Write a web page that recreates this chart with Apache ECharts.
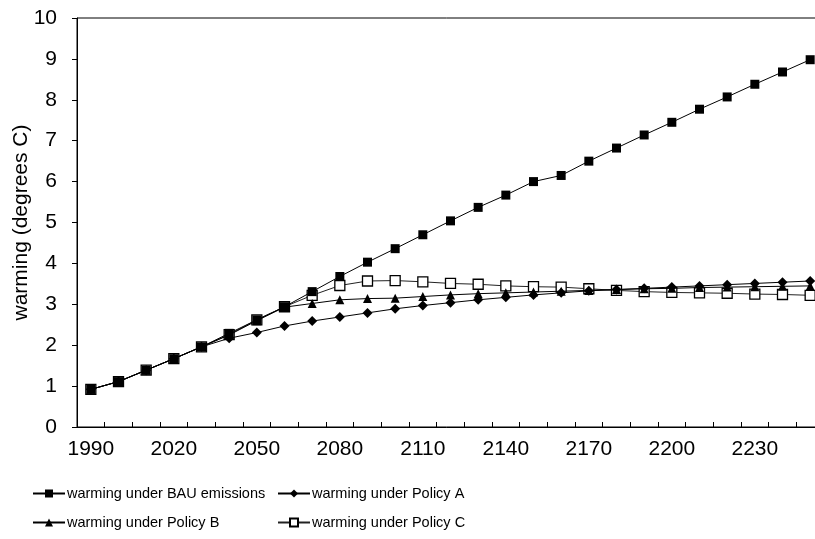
<!DOCTYPE html>
<html>
<head>
<meta charset="utf-8">
<script src="https://cdn.jsdelivr.net/npm/echarts@6/dist/echarts.min.js"></script>
<style>
  html, body { margin: 0; padding: 0; background: #fff; }
  #chart { width: 815px; height: 539px; }
</style>
</head>
<body>
<div id="chart"></div>
<script>
// years on the category axis, one point per decade
const years = ['1990', '2000', '2010', '2020', '2030', '2040', '2050', '2060', '2070', '2080',
  '2090', '2100', '2110', '2120', '2130', '2140', '2150', '2160', '2170', '2180',
  '2190', '2200', '2210', '2220', '2230', '2240', '2250']

const bau = [0.92, 1.11, 1.39, 1.67, 1.96, 2.29, 2.62, 2.94, 3.31, 3.68,
  4.03, 4.36, 4.70, 5.04, 5.37, 5.67, 6.00, 6.15, 6.50, 6.82,
  7.14, 7.45, 7.77, 8.07, 8.38, 8.68, 8.98]
const policyA = [0.92, 1.11, 1.39, 1.67, 1.96, 2.17, 2.31, 2.47, 2.59, 2.69,
  2.79, 2.89, 2.97, 3.04, 3.11, 3.17, 3.23, 3.28, 3.33, 3.36,
  3.39, 3.42, 3.45, 3.48, 3.51, 3.54, 3.57]
const policyB = [0.92, 1.11, 1.39, 1.67, 1.96, 2.25, 2.60, 2.93, 3.02, 3.11,
  3.14, 3.15, 3.19, 3.23, 3.26, 3.28, 3.30, 3.32, 3.34, 3.36,
  3.38, 3.39, 3.41, 3.42, 3.43, 3.44, 3.45]
const policyC = [0.92, 1.11, 1.39, 1.67, 1.96, 2.26, 2.62, 2.94, 3.22, 3.46,
  3.57, 3.58, 3.55, 3.51, 3.49, 3.45, 3.43, 3.42, 3.38, 3.34,
  3.31, 3.29, 3.28, 3.27, 3.25, 3.24, 3.22]

const yTicks = [0, 1, 2, 3, 4, 5, 6, 7, 8, 9, 10]

const font = 'Liberation Sans, Arial, sans-serif'

const chart = echarts.init(document.getElementById('chart'))

const legendBase = (name, left, top) => ({
  data: [name],
  left: left,
  top: top,
  itemWidth: 32,
  itemHeight: 10,
  itemGap: 0,
  textStyle: { fontFamily: font, fontSize: 14.5, color: '#000', padding: [0, 0, 0, -3] },
  padding: 0
})

const option = {
  backgroundColor: '#fff',
  animation: false,
  grid: {
    left: 77,
    top: 18,
    right: -9,
    bottom: 112,
    outerBoundsMode: 'none',
    containLabel: false,
    show: true,
    borderColor: '#000',
    borderWidth: 1
  },
  legend: [
    legendBase('warming under BAU emissions', 32, 486),
    legendBase('warming under Policy A', 277, 486),
    legendBase('warming under Policy B', 32, 515),
    legendBase('warming under Policy C', 277, 515)
  ],
  xAxis: {
    type: 'category',
    data: years,
    boundaryGap: true,
    axisLine: { lineStyle: { color: '#000', width: 1 } },
    axisTick: { show: true, inside: true, length: 5, interval: 0, lineStyle: { color: '#000' } },
    axisLabel: { interval: 2, color: '#000', fontFamily: font, fontSize: 21, margin: 12 },
    splitLine: { show: false }
  },
  yAxis: {
    type: 'value',
    min: yTicks[0],
    max: yTicks[yTicks.length - 1],
    interval: 1,
    name: 'warming (degrees C)',
    nameLocation: 'middle',
    nameGap: 45,
    nameMoveOverlap: false,
    nameTextStyle: { color: '#000', fontFamily: font, fontSize: 21 },
    axisLine: { show: true, lineStyle: { color: '#000', width: 1 } },
    axisTick: { show: true, length: 5, lineStyle: { color: '#000' } },
    axisLabel: { color: '#000', fontFamily: font, fontSize: 21, margin: 20 },
    splitLine: { show: false }
  },
  series: [
    {
      name: 'warming under Policy C',
      type: 'line',
      data: policyC,
      symbol: 'rect',
      symbolSize: 10,
      showAllSymbol: true,
      lineStyle: { color: '#222', width: 1 },
      itemStyle: { color: '#fff', borderColor: '#000', borderWidth: 1.3 },
      z: 2
    },
    {
      name: 'warming under Policy B',
      type: 'line',
      data: policyB,
      symbol: 'triangle',
      symbolSize: 9,
      showAllSymbol: true,
      lineStyle: { color: '#000', width: 1 },
      itemStyle: { color: '#000' },
      z: 3
    },
    {
      name: 'warming under Policy A',
      type: 'line',
      data: policyA,
      symbol: 'diamond',
      symbolSize: 10,
      showAllSymbol: true,
      lineStyle: { color: '#000', width: 1 },
      itemStyle: { color: '#000' },
      z: 4
    },
    {
      name: 'warming under BAU emissions',
      type: 'line',
      data: bau,
      symbol: 'rect',
      symbolSize: 9,
      showAllSymbol: true,
      lineStyle: { color: '#000', width: 1 },
      itemStyle: { color: '#000' },
      z: 5
    }
  ]
}

chart.setOption(option)
</script>
</body>
</html>
